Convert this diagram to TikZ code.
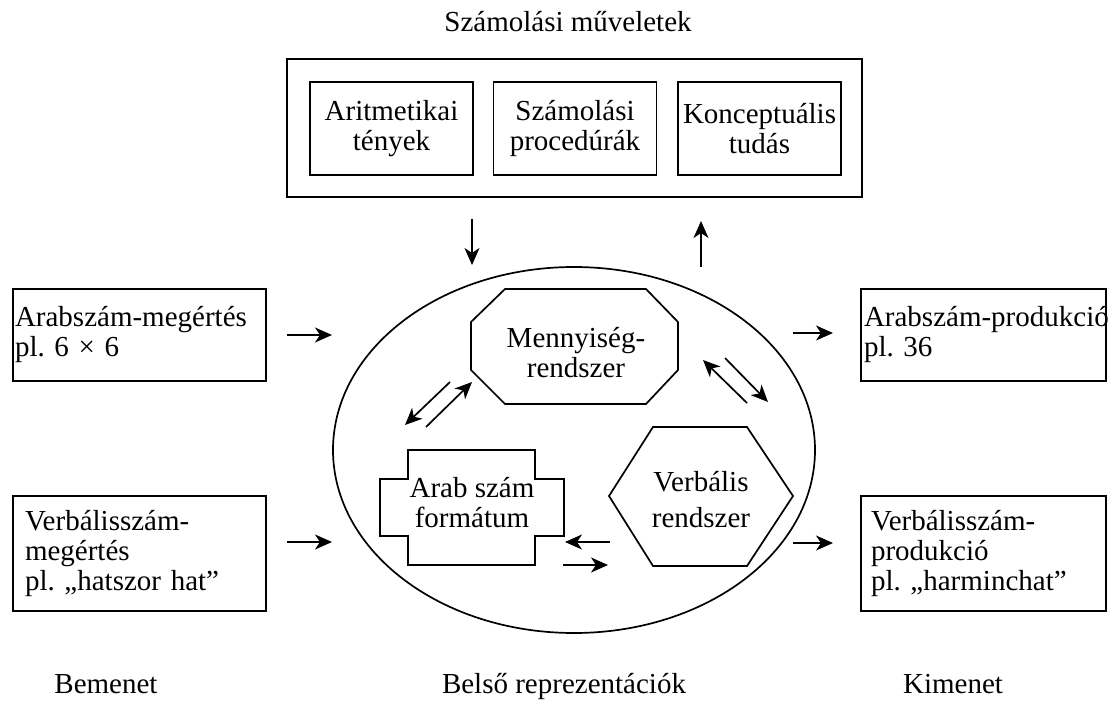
\documentclass[tikz,border=0pt]{standalone}
\usepackage{fontspec}
\setmainfont{Liberation Serif}
\usetikzlibrary{arrows.meta,shapes.geometric}
\frenchspacing
\begin{document}
\begin{tikzpicture}[x=1pt,y=-1pt,
  every node/.style={font=\fontsize{29}{30}\selectfont, inner sep=0pt},
  frame/.style={draw, line width=1.7pt},
  labelbox/.style={frame, align=left, anchor=center},
  innerbox/.style={frame, align=center, minimum width=163pt, minimum height=93pt},
  shapeline/.style={draw, line width=1.7pt, line join=miter},
  arr/.style={line width=1.7pt, -{Stealth[length=17pt,width=15pt,inset=5pt]}}
]
\useasboundingbox (0,0) rectangle (1108,701);
\fill[white] (0,0) rectangle (1108,701);

% --- calculation block ---
\node (calcTitle) at (568,22) {Számolási műveletek};
\node[frame, minimum width=575pt, minimum height=138pt] (calc) at (574.5,128) {};
\node[innerbox] (facts) at (391.5,128.5) {Aritmetikai\\tények};
\node[innerbox] (proc)  at (575,128.5) {Számolási\\procedúrák};
\node[innerbox] (conc)  at (759.5,128.5) {Konceptuális\\tudás};

% --- inner representations ---
\node[frame, ellipse, minimum width=482pt, minimum height=366pt] (inner) at (574,450) {};

\node[align=center] (quant) at (576,353) {Mennyiség-\\rendszer};
\draw[shapeline] (505,289) -- (646,289) -- (678,322) -- (678,370) -- (646,404)
  -- (505,404) -- (471,370) -- (471,322) -- cycle;

\node[align=center] (arab) at (472,503) {Arab szám\\formátum};
\draw[shapeline] (408,450) -- (535,450) -- (535,479) -- (564,479) -- (564,536)
  -- (535,536) -- (535,565) -- (408,565) -- (408,536) -- (380,536)
  -- (380,479) -- (408,479) -- cycle;

\node[align=center, font=\fontsize{29}{36}\selectfont] (verb) at (701,500) {Verbális\\rendszer};
\draw[shapeline] (609,496) -- (653,427) -- (747,427) -- (793,496)
  -- (747,566) -- (653,566) -- cycle;

% --- input and output boxes ---
\node[labelbox, minimum height=92pt, text width=249pt, inner xsep=2pt] (inArab) at (139.5,335)
  {\mbox{Arabszám-megértés}\\pl. 6 × 6};
\node[labelbox, minimum height=115pt, text width=229pt, inner xsep=12pt] (inVerb) at (139.5,553.5)
  {Verbálisszám-\\megértés\\pl. „hatszor hat”};
\node[labelbox, minimum height=92pt, text width=239pt, inner xsep=3pt] (outArab) at (983.5,335)
  {\mbox{Arabszám-produkció}\\pl. 36};
\node[labelbox, minimum height=115pt, text width=225pt, inner xsep=10pt] (outVerb) at (983.5,553.5)
  {Verbálisszám-\\produkció\\pl. „harminchat”};

% --- column captions ---
\node[anchor=base] (capIn)  at (106,693) {Bemenet};
\node[anchor=base] (capMid) at (564,693) {Belső reprezentációk};
\node[anchor=base] (capOut) at (953,693) {Kimenet};

% --- arrow end points ---
\coordinate (dA) at (472,219); \coordinate (dB) at (472,265);
\coordinate (uA) at (701,267); \coordinate (uB) at (701,221);
\coordinate (l1A) at (287,335); \coordinate (l1B) at (332,335);
\coordinate (l2A) at (287,542); \coordinate (l2B) at (332,542);
\coordinate (r1A) at (793,333); \coordinate (r1B) at (833,333);
\coordinate (r2A) at (793,543); \coordinate (r2B) at (833,543);
\coordinate (qaA) at (450,382); \coordinate (qaB) at (405,425);
\coordinate (aqA) at (426,427); \coordinate (aqB) at (472,382);
\coordinate (vqA) at (747,403); \coordinate (vqB) at (703,360);
\coordinate (qvA) at (725,358); \coordinate (qvB) at (768,402);
\coordinate (vaA) at (610,542); \coordinate (vaB) at (565,542);
\coordinate (avA) at (563,565); \coordinate (avB) at (608,565);

\foreach \s/\e in {dA/dB,uA/uB,l1A/l1B,l2A/l2B,r1A/r1B,r2A/r2B,
                   qaA/qaB,aqA/aqB,vqA/vqB,qvA/qvB,vaA/vaB,avA/avB}
  \draw[arr] (\s) -- (\e);
\end{tikzpicture}
\end{document}
